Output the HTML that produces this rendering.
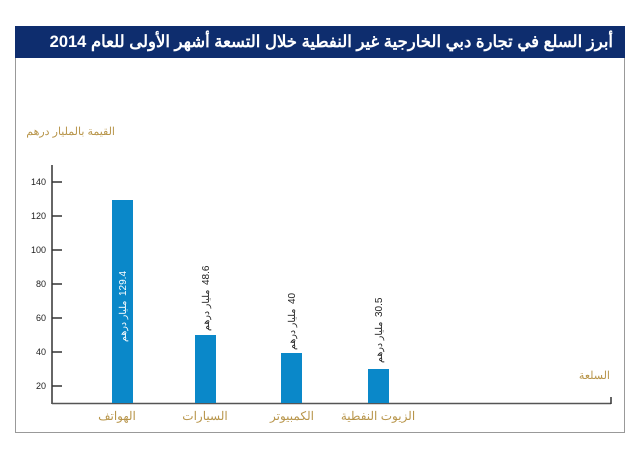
<!DOCTYPE html>
<html><head><meta charset="utf-8"><style>
body{margin:0;background:#fff;width:640px;height:457px;overflow:hidden;font-family:"Liberation Sans","Noto Sans CJK SC",sans-serif}
#t{position:absolute;left:15px;top:26px;width:598px;height:32px;line-height:32px;text-align:right;direction:rtl;color:#fff;font-size:16.5px;font-weight:bold;white-space:nowrap;z-index:2}
</style></head><body>
<svg width="640" height="457" xmlns="http://www.w3.org/2000/svg" style="position:absolute;left:0;top:0">
<rect x="15.5" y="26.5" width="609" height="406" fill="#fff" stroke="#999" stroke-width="1"/>
<rect x="15" y="26" width="610" height="32" fill="#0e2d6e"/>
<text x="115" y="135" text-anchor="end" fill="#b8954a" font-size="11" font-family="'Liberation Sans','Noto Sans CJK SC',sans-serif">القيمة بالمليار درهم</text>
<text x="610" y="379" text-anchor="end" fill="#b8954a" font-size="11" font-family="'Liberation Sans','Noto Sans CJK SC',sans-serif">السلعة</text>
<g stroke="#333" stroke-width="1.5">
<line x1="52" y1="165" x2="52" y2="404"/>
<line x1="52" y1="403.5" x2="611" y2="403.5" stroke="#555"/>
<line x1="611" y1="397" x2="611" y2="404"/>
<line x1="52" y1="182" x2="62" y2="182"/>
<line x1="52" y1="216" x2="62" y2="216"/>
<line x1="52" y1="250" x2="62" y2="250"/>
<line x1="52" y1="284" x2="62" y2="284"/>
<line x1="52" y1="318" x2="62" y2="318"/>
<line x1="52" y1="352" x2="62" y2="352"/>
<line x1="52" y1="386" x2="62" y2="386"/>
</g>
<g font-size="9" fill="#222" text-anchor="end">
<text x="46" y="185">140</text><text x="46" y="219">120</text><text x="46" y="253">100</text>
<text x="46" y="287">80</text><text x="46" y="321">60</text><text x="46" y="355">40</text><text x="46" y="389">20</text>
</g>
<g fill="#0a88c9">
<rect x="112" y="200" width="21" height="203"/>
<rect x="195" y="335" width="21" height="68"/>
<rect x="281" y="353" width="21" height="50"/>
<rect x="368" y="369" width="21" height="34"/>
</g>
<g font-size="9.5" font-family="'Liberation Sans','Noto Sans CJK SC',sans-serif">
<text transform="translate(126,342) rotate(-90)" fill="#fff">مليار درهم</text>
<text transform="translate(126,296) rotate(-90)" fill="#fff" font-size="10">129.4</text>
<text transform="translate(209,331) rotate(-90)" fill="#222">مليار درهم</text>
<text transform="translate(209,285) rotate(-90)" fill="#222" font-size="10">48.6</text>
<text transform="translate(295,350) rotate(-90)" fill="#222">مليار درهم</text>
<text transform="translate(295,304) rotate(-90)" fill="#222" font-size="10">40</text>
<text transform="translate(382,363) rotate(-90)" fill="#222">مليار درهم</text>
<text transform="translate(382,317) rotate(-90)" fill="#222" font-size="10">30.5</text>
</g>
<g font-size="12" fill="#b8954a" text-anchor="middle" font-family="'Liberation Sans','Noto Sans CJK SC',sans-serif">
<text x="117" y="420">الهواتف</text>
<text x="205" y="420">السيارات</text>
<text x="292" y="420">الكمبيوتر</text>
<text x="378" y="420">الزيوت النفطية</text>
</g>
</svg>
<div id="t">أبرز السلع في تجارة دبي الخارجية غير النفطية خلال التسعة أشهر الأولى للعام  2014</div>
</body></html>
